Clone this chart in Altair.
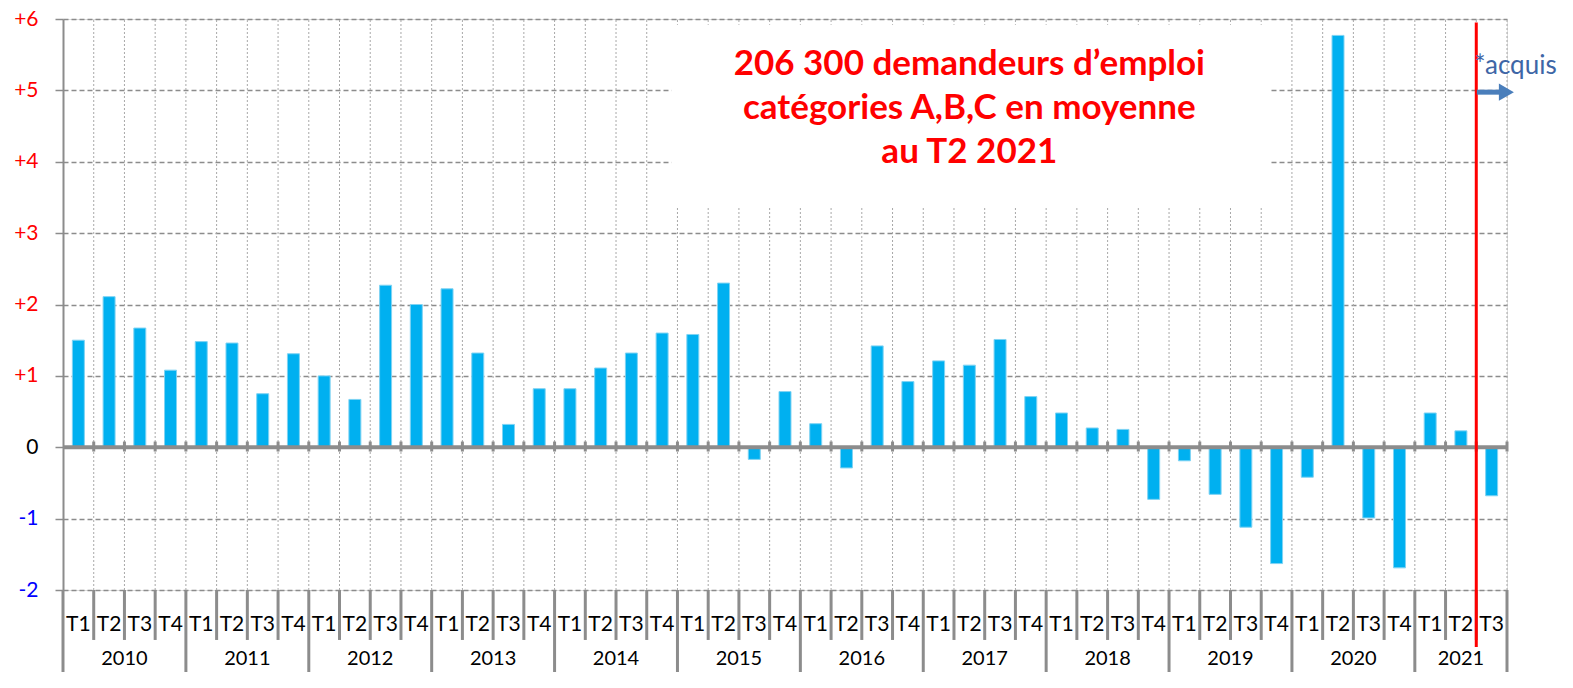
import altair as alt
import pandas as pd

# ---------------- data ----------------
years = ["2010", "2011", "2012", "2013", "2014", "2015",
         "2016", "2017", "2018", "2019", "2020", "2021"]
quarter_names = ["T1", "T2", "T3", "T4"]
values = [
    1.50, 2.11, 1.67, 1.08,     # 2010
    1.48, 1.46, 0.75, 1.31,     # 2011
    1.00, 0.67, 2.27, 2.00,     # 2012
    2.22, 1.32, 0.32, 0.82,     # 2013
    0.82, 1.11, 1.32, 1.60,     # 2014
    1.58, 2.30, -0.17, 0.78,    # 2015
    0.33, -0.29, 1.42, 0.92,    # 2016
    1.21, 1.15, 1.51, 0.71,     # 2017
    0.48, 0.27, 0.25, -0.73,    # 2018
    -0.19, -0.66, -1.12, -1.63, # 2019
    -0.42, 5.77, -0.99, -1.69,  # 2020
    0.48, 0.23, -0.68,          # 2021
]
y_ticks = [-2, -1, 0, 1, 2, 3, 4, 5, 6]
title_lines = ["206 300 demandeurs d\u2019emploi",
               "cat\u00e9gories A,B,C en moyenne",
               "au T2 2021"]
acquis_label = "*acquis"
acquis_index = 46          # first quarter that is an "acquis" (2021 T3)

n = len(values)
Y_MIN, Y_MAX = -2, 6

# ---------------- tables ----------------
bars = pd.DataFrame({
    "idx": list(range(n)),
    "value": values,
    "q": [quarter_names[i % 4] for i in range(n)],
    "year": [years[i // 4] for i in range(n)],
})
bars["x0"] = bars["idx"] + 0.305
bars["x1"] = bars["idx"] + 0.695
bars["xc"] = bars["idx"] + 0.5
bars["zero"] = 0

bounds = pd.DataFrame({"b": list(range(0, n + 1))})
bounds["is_year"] = (bounds["b"] % 4 == 0) | (bounds["b"] == n)
inner = bounds[bounds["b"] > 0].copy()

year_pos = pd.DataFrame({
    "year": years,
    "xc": [(4 * k + min(4 * k + 4, n)) / 2 for k in range(len(years))],
})

xs = alt.Scale(domain=[0, n], nice=False, zero=False)
ys = alt.Scale(domain=[Y_MIN, Y_MAX], nice=False, zero=False)

GRAY = "#8C8C8C"
FONT = "Lato"

y_axis = alt.Axis(
    values=y_ticks, title=None, grid=True,
    gridColor=GRAY, gridDash=[5, 3], gridWidth=1.5,
    domainColor=GRAY, domainWidth=2,
    tickColor=GRAY, tickSize=8, tickWidth=1.5,
    labelFont=FONT, labelFontSize=21, labelPadding=17,
    labelExpr="datum.value > 0 ? '+' + datum.value : '' + datum.value",
    labelColor={"condition": [{"test": "datum.value > 0", "value": "#FF0000"},
                              {"test": "datum.value < 0", "value": "#0000FF"}],
                "value": "#000000"},
)


def Yd(v):
    return alt.Y(datum=v, scale=ys, axis=y_axis)


def Yf(f):
    return alt.Y(f, scale=ys, axis=y_axis)


def Xf(f):
    return alt.X(f, scale=xs, axis=None)


# vertical dotted gridlines
vgrid = alt.Chart(inner).mark_rule(color="#A8A8A8", strokeWidth=1, strokeDash=[2, 2]).encode(
    x=Xf("b:Q"), y=Yd(Y_MIN), y2=alt.Y2(datum=Y_MAX),
)

# white box behind the annotation text
box = alt.Chart(pd.DataFrame({"a": [19.8], "b": [39.3], "c": [5.92], "d": [3.37]})).mark_rect(
    color="white").encode(x=Xf("a:Q"), x2="b:Q", y=Yf("c:Q"), y2="d:Q")

bar_layer = alt.Chart(bars).mark_rect(color="#00B0F0", stroke="#7FD3F3", strokeWidth=1).encode(
    x=Xf("x0:Q"), x2="x1:Q", y=Yf("value:Q"), y2="zero:Q",
)

# zero line and its small ticks
zero_line = alt.Chart(pd.DataFrame({"a": [0], "b": [n]})).mark_rule(color=GRAY, strokeWidth=4).encode(
    x=Xf("a:Q"), x2="b:Q", y=Yd(0),
)
zero_ticks = alt.Chart(inner).mark_rule(color=GRAY, strokeWidth=3).encode(
    x=Xf("b:Q"), y=Yd(0.08), y2=alt.Y2(datum=-0.06),
)

# category separators below the plot
q_sep = alt.Chart(bounds[~bounds["is_year"]]).mark_rule(color=GRAY, strokeWidth=3).encode(
    x=Xf("b:Q"), y=Yd(Y_MIN), y2=alt.Y2(datum=-2.70),
)
y_sep = alt.Chart(bounds[bounds["is_year"]]).mark_rule(color=GRAY, strokeWidth=3).encode(
    x=Xf("b:Q"), y=Yd(Y_MIN), y2=alt.Y2(datum=-3.4),
)

q_labels = alt.Chart(bars).mark_text(font=FONT, fontSize=21, color="black", baseline="middle").encode(
    x=Xf("xc:Q"), y=Yd(-2.49), text="q:N",
)
year_labels = alt.Chart(year_pos).mark_text(font=FONT, fontSize=20, color="black", baseline="middle").encode(
    x=Xf("xc:Q"), y=Yd(-2.97), text="year:N",
)

# red separator between realised and "acquis"
red_line = alt.Chart(pd.DataFrame({"b": [acquis_index]})).mark_rule(color="#FF0000", strokeWidth=3).encode(
    x=Xf("b:Q"), y=Yd(5.95), y2=alt.Y2(datum=-2.80),
)

# annotation text
title = alt.Chart(pd.DataFrame({"t": ["\n".join(title_lines)], "x": [29.5], "y": [5.21]})).mark_text(
    font=FONT, fontSize=35, fontWeight="bold", color="#FF0000", align="center",
    baseline="alphabetic", lineBreak="\n", lineHeight=44,
).encode(x=Xf("x:Q"), y=Yf("y:Q"), text="t:N")

acquis = alt.Chart(pd.DataFrame({"t": [acquis_label], "x": [acquis_index - 0.06], "y": [5.23]})).mark_text(
    font=FONT, fontSize=26, color="#3E66A6", align="left", baseline="alphabetic",
).encode(x=Xf("x:Q"), y=Yf("y:Q"), text="t:N")

arrow_shaft = alt.Chart(pd.DataFrame({"a": [acquis_index + 0.02], "b": [acquis_index + 0.8]})).mark_rule(
    color="#4A7EBB", strokeWidth=5).encode(x=Xf("a:Q"), x2="b:Q", y=Yd(4.975))
arrow_head = alt.Chart(pd.DataFrame({"x": [acquis_index + 0.98]})).mark_point(
    shape="triangle-right", filled=True, color="#4A7EBB", size=300, opacity=1).encode(
    x=Xf("x:Q"), y=Yd(4.975))

chart = alt.layer(
    vgrid, box, bar_layer, zero_line, zero_ticks, q_sep, y_sep,
    q_labels, year_labels, red_line, title, acquis, arrow_shaft, arrow_head,
).properties(
    width=1444, height=571,
    autosize=alt.AutoSizeParams(type="none"),
    padding={"left": 55, "top": 11, "right": 56, "bottom": 82},
).configure_view(stroke=None).configure(background="white")

chart.save("out.html", embed_options={"renderer": "svg", "actions": False})
